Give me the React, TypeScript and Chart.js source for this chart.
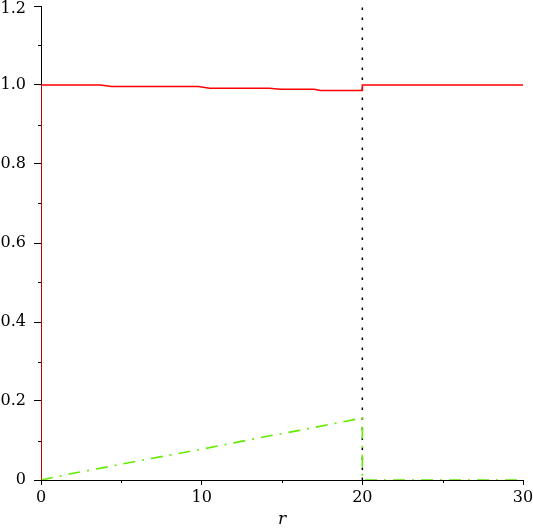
import React, { useEffect, useRef } from "react";
import { Chart, registerables } from "chart.js";

Chart.register(...registerables);

const redR = [0, 0, 3.7, 4.4, 9.8, 10.5, 14.2, 14.9, 17.0, 17.4, 20, 20, 30];
const redY = [0, 1.0, 1.0, 0.996, 0.996, 0.992, 0.992, 0.989, 0.989, 0.986, 0.986, 1.0, 1.0];

const greenR = [0, 2, 4, 6, 8, 10, 12, 14, 16, 18, 20, 20, 30];
const greenY = [0, 0.017, 0.032, 0.048, 0.063, 0.078, 0.094, 0.11, 0.125, 0.141, 0.157, 0, 0];

const markR = [20, 20];
const markY = [0, 1.2];

const xMajor = [0, 10, 20, 30];
const xMinor = [5, 15, 25];
const yMajor = [0, 0.2, 0.4, 0.6, 0.8, 1.0, 1.2];
const yMinor = [0.1, 0.3, 0.5, 0.7, 0.9, 1.1];

const FONT = "'DejaVu Serif', serif";
const yLabel = (v: number) => (v === 0 ? "0" : v.toFixed(1));

const extras = {
  id: "extras",
  afterDraw(chart: any) {
    const ctx = chart.ctx;
    const xs = chart.scales.x;
    const ys = chart.scales.y;
    ctx.save();
    ctx.strokeStyle = "#000";
    ctx.lineWidth = 1;
    ctx.beginPath();
    for (const v of xMinor) {
      const px = Math.round(xs.getPixelForValue(v)) + 0.5;
      ctx.moveTo(px, ys.bottom);
      ctx.lineTo(px, ys.bottom + 3);
    }
    for (const v of yMinor) {
      const py = Math.round(ys.getPixelForValue(v)) + 0.5;
      ctx.moveTo(xs.left, py);
      ctx.lineTo(xs.left - 3, py);
    }
    ctx.stroke();
    // top label kept inside the canvas
    const top = yMajor[yMajor.length - 1];
    ctx.fillStyle = "#000";
    ctx.font = "16px " + FONT;
    ctx.textAlign = "right";
    ctx.textBaseline = "top";
    ctx.fillText(yLabel(top), xs.left - 15, 1);
    ctx.restore();
  },
};

export default function App() {
  const ref = useRef<HTMLCanvasElement | null>(null);
  useEffect(() => {
    document.body.style.margin = "0";
    const toPts = (xs: number[], ys: number[]) => xs.map((x, i) => ({ x, y: ys[i] }));
    const topVal = yMajor[yMajor.length - 1];
    const chart = new Chart(ref.current as HTMLCanvasElement, {
      type: "line",
      data: {
        datasets: [
          {
            data: toPts(redR, redY),
            borderColor: "#ff0000",
            borderWidth: 1.5,
            pointRadius: 0,
            tension: 0,
          },
          {
            data: toPts(greenR, greenY),
            borderColor: "rgb(100,235,0)",
            borderWidth: 1.6,
            borderDash: [12, 7, 2, 7],
            pointRadius: 0,
            tension: 0,
          },
          {
            data: toPts(markR, markY),
            borderColor: "#000",
            borderWidth: 1.5,
            borderDash: [2.5, 7.5],
            pointRadius: 0,
          },
        ],
      },
      options: {
        responsive: false,
        animation: false,
        events: [],
        layout: { padding: { top: 6, right: 10, left: 0, bottom: 0 } },
        plugins: { legend: { display: false }, tooltip: { enabled: false } },
        scales: {
          x: {
            type: "linear",
            min: 0,
            max: 30,
            z: 1,
            afterBuildTicks: (s: any) => {
              s.ticks = xMajor.map((v) => ({ value: v }));
            },
            afterFit: (s: any) => {
              s.height = 50;
              s.paddingLeft = 0;
              s.paddingRight = 0;
            },
            border: { color: "#000", width: 1 },
            grid: { display: true, drawOnChartArea: false, tickLength: 5, color: "#000" },
            ticks: {
              color: "#000",
              font: { family: FONT, size: 16 },
              padding: 3,
              maxRotation: 0,
              callback: (v: any) => String(v),
            },
            title: {
              display: true,
              text: "r",
              color: "#000",
              font: { family: FONT, size: 17, style: "italic" },
              padding: { top: 0, bottom: 0 },
            },
          },
          y: {
            type: "linear",
            min: 0,
            max: 1.2,
            z: 1,
            afterBuildTicks: (s: any) => {
              s.ticks = yMajor.map((v) => ({ value: v }));
            },
            afterFit: (s: any) => {
              s.width = 41;
              s.paddingTop = 0;
              s.paddingBottom = 0;
            },
            border: { color: "#000", width: 1 },
            grid: { display: true, drawOnChartArea: false, tickLength: 7, color: "#000" },
            ticks: {
              color: "#000",
              font: { family: FONT, size: 16 },
              padding: 8,
              callback: (v: any) => (Number(v) === topVal ? "" : yLabel(Number(v))),
            },
          },
        },
      },
      plugins: [extras],
    });
    return () => chart.destroy();
  }, []);
  return <canvas ref={ref} width={533} height={530} />;
}
